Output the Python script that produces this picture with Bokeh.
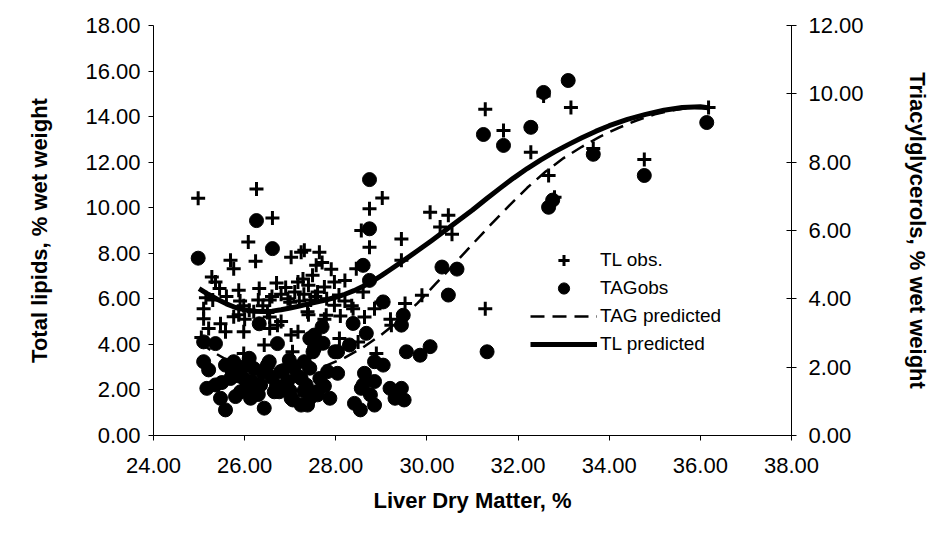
from bokeh.plotting import figure
from bokeh.models import (Range1d, LinearAxis, FixedTicker, NumeralTickFormatter,
                          Legend, LegendItem, ColumnDataSource)
from bokeh.embed import file_html
from bokeh.resources import INLINE

# ---------------- data ----------------
tl_x = [24.98, 26.26, 26.61, 26.08, 26.24, 25.69, 25.76, 27.02, 27.24, 25.28, 25.36, 25.87, 26.32,
        29.02, 28.74, 28.74, 29.44, 30.07, 30.29, 28.56, 29.44, 28.45, 27.31, 27.64, 27.57, 27.49, 27.97,
        30.47, 30.55,
        31.28, 31.68, 33.16, 32.56, 32.28, 32.67, 32.80, 34.77, 36.18, 31.28, 33.65,
        29.52, 29.89, 28.85, 29.22, 28.89, 28.63, 28.08, 28.38, 27.97, 27.38, 27.79, 28.49,
        25.10, 25.10, 25.47, 25.58, 25.21, 25.76, 25.98, 26.43, 27.02, 27.05, 26.72, 25.98,
        25.98, 26.10, 25.87, 26.30, 26.20, 26.55, 26.55, 26.80, 26.95, 27.17, 27.28, 27.40,
        27.75, 28.07, 27.00, 27.20, 27.45, 27.40, 27.17, 26.80, 26.55, 27.75, 28.35, 29.00, 29.20,
        26.90, 27.10, 27.30, 27.60, 27.80, 28.20, 26.60, 26.40, 25.60, 25.90, 27.90, 28.20, 27.70,
        26.50, 28.60, 25.15, 25.45, 25.05, 25.30, 26.00, 26.70, 27.55, 28.10]
tl_y = [10.42, 10.82, 9.55, 8.49, 7.65, 7.69, 7.32, 7.83, 8.05, 6.96, 6.74, 6.38, 6.45,
        10.43, 9.95, 8.27, 8.63, 9.80, 9.15, 9.00, 7.69, 7.32, 8.13, 8.05, 7.47, 7.03, 6.74,
        9.67, 8.84,
        14.32, 13.39, 14.40, 14.90, 12.43, 11.42, 10.46, 12.12, 14.40, 5.56, 12.60,
        5.79, 6.16, 5.57, 4.84, 3.60, 5.20, 4.26, 5.57, 5.72, 5.43, 5.28, 4.11,
        5.57, 5.13, 4.91, 4.55, 4.70, 5.21, 4.55, 3.97, 4.41, 3.68, 4.84, 3.60,
        5.70, 5.50, 5.30, 5.95, 5.43, 5.95, 5.20, 6.20, 6.00, 6.74, 6.87, 6.60,
        6.52, 6.17, 5.85, 5.90, 5.95, 5.30, 4.55, 5.00, 4.70, 5.10, 5.70, 5.86, 5.10,
        6.50, 6.30, 6.20, 6.30, 6.00, 5.90, 6.10, 5.70, 6.10, 5.90, 7.30, 6.80, 7.60,
        5.40, 6.30, 6.05, 6.45, 4.30, 5.95, 5.10, 6.70, 6.10, 5.25]

tag_x = [24.98, 26.26, 26.61,
         28.74, 28.74, 28.60, 28.74, 30.33,
         31.24, 31.68, 32.28, 33.10, 32.56, 33.65, 32.67, 32.76, 34.77, 36.14, 31.32, 30.66, 30.47,
         29.04, 29.48, 29.44, 28.38, 28.67, 28.04, 28.85, 29.04, 29.55, 29.85, 30.07, 28.04, 28.63,
         28.85, 28.56, 29.19, 29.44, 29.30, 28.41, 28.85, 27.38, 27.60, 27.82, 27.31, 27.53, 27.53,
         25.10, 25.36, 26.72, 25.10, 25.21, 25.17, 25.47, 25.58, 26.43, 26.13, 25.76, 25.69, 25.91,
         26.20, 26.50, 26.79, 27.09, 27.02, 27.24, 26.65, 26.35, 26.94, 27.24, 25.98,
         26.32, 27.70, 27.43, 27.72, 27.50, 27.98, 28.30, 28.60, 28.76, 29.50, 28.54,
         26.10, 26.98, 27.43, 27.65, 26.17, 26.91, 27.35, 27.57, 25.80, 26.76, 27.87, 25.58,
         25.73, 26.54, 27.06, 27.43, 25.36,
         25.85, 26.05, 26.40, 26.60, 26.85, 27.15, 27.30, 25.50, 25.95, 26.30, 26.70, 27.00, 27.75]
tag_y = [5.19, 6.29, 5.47,
         7.49, 6.05, 4.98, 4.54, 4.93,
         8.81, 8.49, 9.02, 10.39, 10.04, 8.23, 6.68, 6.89, 7.61, 9.16, 2.45, 4.87, 4.11,
         3.91, 3.52, 3.23, 3.28, 2.99, 2.45, 2.16, 2.06, 2.45, 2.35, 2.60, 1.82, 1.82,
         1.58, 1.38, 1.38, 1.38, 1.09, 0.94, 0.89, 0.89, 1.19, 1.87, 2.16, 2.55, 2.94,
         2.74, 2.69, 2.69, 2.16, 1.92, 1.38, 1.09, 0.75, 0.80, 1.09, 2.16, 1.67, 1.28,
         1.96, 2.06, 1.87, 2.01, 1.09, 0.89, 1.28, 1.48, 1.58, 1.67, 1.67,
         3.27, 3.18, 2.84, 2.70, 2.45, 2.45, 2.65, 1.48, 1.19, 1.04, 0.75,
         2.26, 2.21, 1.97, 1.67, 1.58, 1.48, 1.48, 1.28, 1.14, 1.28, 1.09, 2.06,
         1.87, 2.16, 1.04, 1.09, 1.48,
         1.75, 1.40, 1.85, 1.70, 1.90, 1.75, 1.30, 1.55, 2.00, 1.20, 1.45, 1.30, 1.45]

tl_pred_x = [25.0, 25.2, 25.4, 25.6, 25.8, 26.0, 26.2, 26.4, 26.6, 26.8, 27.0, 27.2, 27.4, 27.6,
             27.8, 28.0, 28.2, 28.4, 28.6, 28.8, 29.0, 29.2, 29.5, 29.8, 30.1, 30.4, 30.7, 31.0,
             31.3, 31.6, 31.9, 32.2, 32.5, 32.8, 33.1, 33.4, 33.7, 34.0, 34.4, 34.8, 35.2, 35.6,
             36.0, 36.2]
tl_pred_y = [6.45, 6.2, 5.98, 5.78, 5.62, 5.52, 5.46, 5.44, 5.46, 5.52, 5.6, 5.68, 5.78, 5.87,
             5.96, 6.07, 6.2, 6.36, 6.55, 6.77, 7.02, 7.29, 7.7, 8.12, 8.55, 9.0, 9.45, 9.9,
             10.38, 10.85, 11.3, 11.72, 12.1, 12.45, 12.77, 13.07, 13.35, 13.6, 13.88, 14.1, 14.28, 14.4,
             14.43, 14.38]

tag_pred_x = [25.0, 25.3, 25.6, 26.0, 26.5, 27.0, 27.4, 27.8, 28.2, 28.6, 29.0, 29.4, 29.8,
              30.2, 30.6, 31.0, 31.4, 31.8, 32.2, 32.6, 33.0, 33.4, 33.8, 34.2, 34.6, 35.0,
              35.4, 35.8, 36.2]
tag_pred_y = [2.75, 2.45, 2.22, 2.05, 1.92, 1.88, 1.92, 2.05, 2.28, 2.58, 2.95, 3.38, 3.88,
              4.45, 5.02, 5.6, 6.17, 6.72, 7.25, 7.72, 8.12, 8.45, 8.75, 9.0, 9.22, 9.4,
              9.52, 9.6, 9.57]

x_ticks = [24, 26, 28, 30, 32, 34, 36, 38]
left_ticks = [0, 2, 4, 6, 8, 10, 12, 14, 16, 18]
right_ticks = [0, 2, 4, 6, 8, 10, 12]

FONT = "Liberation Sans"
TICK_FS = "22px"
LABEL_FS = "22px"

p = figure(width=932, height=530, x_range=Range1d(24, 38), y_range=Range1d(0, 18),
           output_backend="svg", toolbar_location=None,
           min_border_left=153, min_border_right=140, min_border_top=25, min_border_bottom=95)
p.extra_y_ranges = {"tag": Range1d(0, 12)}
p.outline_line_color = None
p.xgrid.visible = False
p.ygrid.visible = False
p.background_fill_color = "white"
p.border_fill_color = "white"

tl_src = ColumnDataSource(dict(x=tl_x, y=tl_y))
tag_src = ColumnDataSource(dict(x=tag_x, y=tag_y))

r_tl = p.scatter("x", "y", source=tl_src, marker="cross", size=14, line_width=3,
                 line_color="black")
r_tag = p.scatter("x", "y", source=tag_src, marker="circle", size=14, fill_color="black",
                  line_color="black", y_range_name="tag")
r_tagp = p.line(tag_pred_x, tag_pred_y, line_width=2.5, line_dash="14 8", color="black",
                y_range_name="tag")
r_tlp = p.line(tl_pred_x, tl_pred_y, line_width=5, color="black", line_join="round")

def style_axis(ax, ticks, tick_in, tick_out):
    ax.ticker = FixedTicker(ticks=ticks)
    ax.formatter = NumeralTickFormatter(format="0.00")
    ax.minor_tick_line_color = None
    ax.major_tick_in = tick_in
    ax.major_tick_out = tick_out
    ax.axis_line_color = "black"
    ax.major_tick_line_color = "black"
    ax.major_label_text_font = FONT
    ax.major_label_text_font_size = TICK_FS
    ax.major_label_text_color = "black"
    ax.axis_label_text_font = FONT
    ax.axis_label_text_font_size = LABEL_FS
    ax.axis_label_text_font_style = "bold"
    ax.axis_label_text_color = "black"

xa = p.xaxis[0]
style_axis(xa, x_ticks, 0, 5)
xa.axis_label = "Liver Dry Matter, %"
xa.major_label_standoff = 17
xa.axis_label_standoff = 12

ya = p.yaxis[0]
style_axis(ya, left_ticks, 0, 5)
ya.axis_label = "Total lipids, % wet weight"
ya.major_label_standoff = 8
ya.axis_label_standoff = 30

ra = LinearAxis(y_range_name="tag")
style_axis(ra, right_ticks, 5, 5)
ra.axis_label = "Triacylglycerols, % wet weight"
ra.major_label_standoff = 12
ra.axis_label_standoff = 38
p.add_layout(ra, "right")

legend = Legend(items=[
    LegendItem(label="TL obs.", renderers=[r_tl]),
    LegendItem(label="TAGobs", renderers=[r_tag]),
    LegendItem(label="TAG predicted", renderers=[r_tagp]),
    LegendItem(label="TL predicted", renderers=[r_tlp]),
], location=(377, 77), orientation="vertical")
legend.border_line_color = None
legend.background_fill_alpha = 0
legend.padding = 0
legend.margin = 0
legend.glyph_width = 67
legend.glyph_height = 28
legend.label_height = 28
legend.spacing = 0
legend.label_standoff = 3
legend.label_text_font = FONT
legend.label_text_font_size = "19px"
legend.label_text_color = "black"
p.add_layout(legend, "center")

open("out.html", "w").write(file_html(p, INLINE))
